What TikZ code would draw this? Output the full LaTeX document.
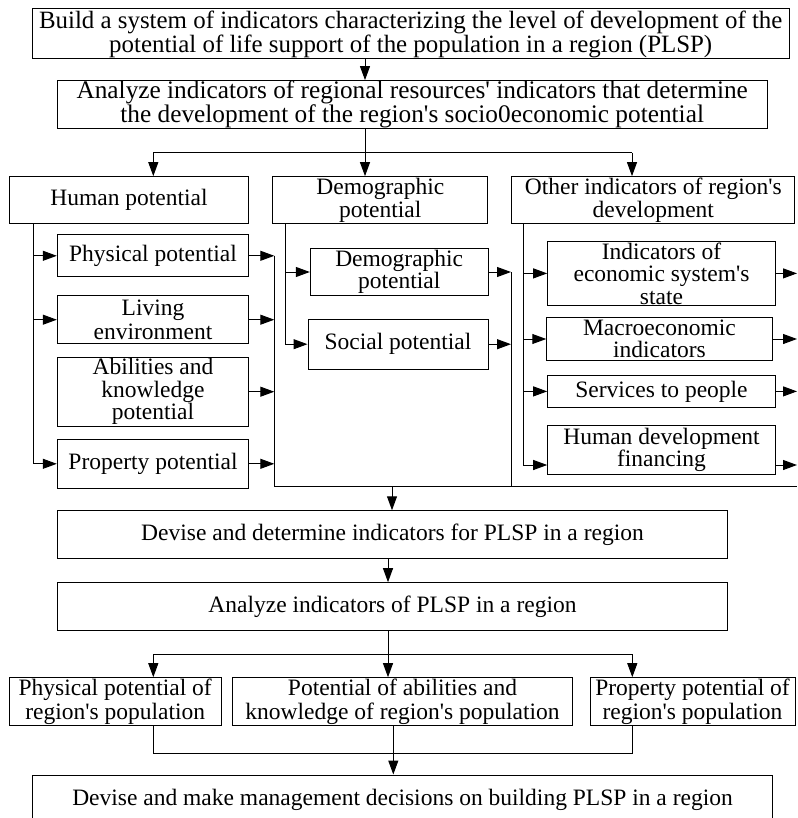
\documentclass[tikz,border=0pt]{standalone}
\usepackage{fontspec}
\setmainfont{Liberation Serif}[Ligatures=TeXOff]
\usepackage{tikz}
\usetikzlibrary{arrows.meta}
\tikzstyle{box} = [
    rectangle,
    draw=black,
    line width=1pt,
    inner sep=0pt,
    align=center,
    font=\fontsize{23.5}{22.5}\selectfont
]
\tikzstyle{line} = [
    line width=1pt
]
\tikzstyle{arrow} = [
    line width=1pt,
    -{Triangle[length=14pt,width=10pt]}
]

\begin{document}
\begin{tikzpicture}[x=1pt, y=-1pt]
    \useasboundingbox (0,0) rectangle (797,818);

    % top part
    \node (build)     [box, minimum width=756.7pt, minimum height=50pt, font=\fontsize{24.9}{21.5}\selectfont]   at (410.7,34)   {Build a system of indicators characterizing the level of development of the\\ potential of life support of the population in a region (PLSP)};
    \node (analyze)   [box, minimum width=709.7pt, minimum height=47.6pt, font=\fontsize{25.3}{24.5}\selectfont] at (412.2,104.5) {Analyze indicators of regional resources' indicators that determine\\ the development of the region's socio0economic potential};

    % column headers
    \node (human)     [box, minimum width=239.4pt, minimum height=47.3pt] at (129,200.3)   {Human potential};
    \node (demog)     [box, minimum width=215.3pt, minimum height=47.3pt] at (380.3,200.3) {Demographic\\ potential};
    \node (other)     [box, minimum width=283.3pt, minimum height=47.3pt] at (653.3,200.3) {Other indicators of region's\\ development};

    % human potential
    \node (physical)  [box, minimum width=191.4pt, minimum height=41.7pt] at (153,255.8) {Physical potential};
    \node (living)    [box, minimum width=191.4pt, minimum height=48pt, font=\fontsize{23.5}{24}\selectfont] at (153,319.7) {Living\\ environment};
    \node (abilities) [box, minimum width=191.4pt, minimum height=68.7pt] at (153,391.7) {Abilities and\\ knowledge\\ potential};
    \node (property)  [box, minimum width=191.4pt, minimum height=49pt]   at (153,463.8) {Property potential};

    % demographic potential
    \node (demsub)    [box, minimum width=177.7pt, minimum height=47.4pt] at (399.2,272)   {Demographic\\ potential};
    \node (social)    [box, minimum width=180pt, minimum height=49.7pt]   at (398,344.2)   {Social potential};

    % other indicators
    \node (econ)      [box, minimum width=227.6pt, minimum height=64.7pt] at (661.5,273.4) {Indicators of\\ economic system's\\ state};
    \node (macro)     [box, minimum width=225.3pt, minimum height=43.4pt] at (659.4,339)   {Macroeconomic\\ indicators};
    \node (services)  [box, minimum width=227.6pt, minimum height=32.7pt] at (661.5,391.4) {Services to people};
    \node (financing) [box, minimum width=227.6pt, minimum height=49.3pt] at (661.5,449.7) {Human development\\ financing};

    % lower part
    \node (devise)    [box, minimum width=670.4pt, minimum height=47.3pt] at (392.5,534.4) {Devise and determine indicators for PLSP in a region};
    \node (plsp)      [box, minimum width=670.4pt, minimum height=48pt]   at (392.5,606.7) {Analyze indicators of PLSP in a region};
    \node (rphys)     [box, minimum width=211.7pt, minimum height=48pt, font=\fontsize{23.5}{24}\selectfont] at (115.2,701.7) {Physical potential of\\ region's population};
    \node (rabil)     [box, minimum width=340.4pt, minimum height=48pt, font=\fontsize{23.5}{24}\selectfont] at (402.5,701.7) {Potential of abilities and\\ knowledge of region's population};
    \node (rprop)     [box, minimum width=205pt, minimum height=48pt, font=\fontsize{23.5}{24}\selectfont]   at (692.5,701.7) {Property potential of\\ region's population};
    \node (decide)    [box, minimum width=740.4pt, minimum height=50pt]   at (402.5,800)   {Devise and make management decisions on building PLSP in a region};

    % turning points
    \coordinate (c1)     at (365,0);
    \coordinate (split1) at (365,152.7);
    \coordinate (l1)     at (153.3,152.7);
    \coordinate (r1)     at (632,152.7);
    \coordinate (htrunk) at (33.3,0);
    \coordinate (hcol)   at (274.3,0);
    \coordinate (dtrunk) at (285,0);
    \coordinate (dcol)   at (511,0);
    \coordinate (otrunk) at (523.3,0);
    \coordinate (finy)   at (0,465);
    \coordinate (join)   at (392,486.7);
    \coordinate (edge)   at (797,486.7);
    \coordinate (c2)     at (388,0);
    \coordinate (split2) at (388,654.3);
    \coordinate (l2)     at (153.3,654.3);
    \coordinate (r2)     at (632.3,654.3);
    \coordinate (l3)     at (153.3,753.3);
    \coordinate (r3)     at (632.3,753.3);
    \coordinate (c3)     at (393.3,0);

    \draw [arrow] (build.south -| c1)   -- (analyze.north -| c1);
    \draw [line]  (analyze.south -| c1) -- (split1);
    \draw [line]  (l1) -- (r1);
    \draw [arrow] (l1)     -- (l1 |- human.north);
    \draw [arrow] (split1) -- (split1 |- demog.north);
    \draw [arrow] (r1)     -- (r1 |- other.north);

    \draw [line] (human.south -| htrunk) -- (property -| htrunk);
    \foreach \n in {physical, living, property}
        \draw [arrow] (\n -| htrunk) -- (\n.west);
    \foreach \n in {physical, living, abilities, property}
        \draw [arrow] (\n.east) -- (\n -| hcol);
    \draw [line] (physical -| hcol) -- (hcol |- join) -- (edge);

    \draw [line] (demog.south -| dtrunk) -- (social -| dtrunk);
    \foreach \n in {demsub, social} {
        \draw [arrow] (\n -| dtrunk) -- (\n.west);
        \draw [arrow] (\n.east) -- (\n -| dcol);
    }
    \draw [line] (demsub -| dcol) -- (dcol |- join);

    \draw [line] (other.south -| otrunk) -- (finy -| otrunk);
    \foreach \n in {econ, macro, services} {
        \draw [arrow] (\n -| otrunk) -- (\n.west);
        \draw [arrow] (\n.east) -- (\n -| edge);
    }
    \draw [arrow] (finy -| otrunk) -- (finy -| financing.west);
    \draw [arrow] (finy -| financing.east) -- (finy -| edge);

    \draw [arrow] (join) -- (join |- devise.north);
    \draw [arrow] (devise.south -| c2) -- (plsp.north -| c2);
    \draw [line]  (plsp.south -| c2) -- (split2);
    \draw [line]  (l2) -- (r2);
    \draw [arrow] (l2)     -- (l2 |- rphys.north);
    \draw [arrow] (split2) -- (split2 |- rabil.north);
    \draw [arrow] (r2)     -- (r2 |- rprop.north);
    \draw [line]  (l3 |- rphys.south) -- (l3) -- (r3) -- (r3 |- rprop.south);
    \draw [arrow] (rabil.south -| c3) -- (decide.north -| c3);

\end{tikzpicture}
\end{document}
